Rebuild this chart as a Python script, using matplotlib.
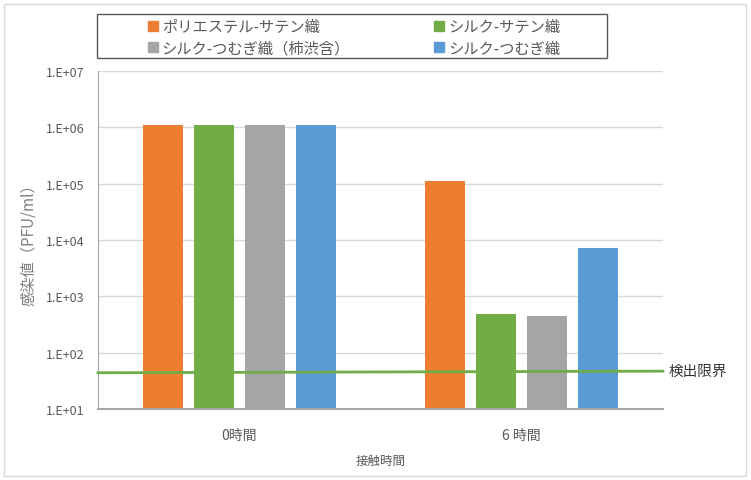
import matplotlib.pyplot as plt
import matplotlib.patches as mpatches
import numpy as np

plt.rcParams['font.family'] = ['Noto Sans CJK JP', 'DejaVu Sans']

# datos
categorias = ['0時間', '6 時間']
series = ['ポリエステル-サテン織', 'シルク-サテン織', 'シルク-つむぎ織（柿渋含）', 'シルク-つむぎ織']
valores = [
    [1.1e6, 1.1e5],   # ポリエステル-サテン織
    [1.1e6, 490],     # シルク-サテン織
    [1.1e6, 450],     # シルク-つむぎ織（柿渋含）
    [1.1e6, 7100],    # シルク-つむぎ織
]
limite_x = [-0.5, 1.5]
limite_y = [44, 47]
ticks_y = [1e1, 1e2, 1e3, 1e4, 1e5, 1e6, 1e7]
etiquetas_y = ['1.E+01', '1.E+02', '1.E+03', '1.E+04', '1.E+05', '1.E+06', '1.E+07']

colores = ['#ED7D31', '#70AD47', '#A5A5A5', '#5B9BD5']
gris = '#595959'

fig = plt.figure(figsize=(7.51, 4.81), dpi=100)
ax = fig.add_axes([0.1305, 0.1476, 0.7523, 0.7027])

x = np.arange(len(categorias))
ancho = 0.1416
paso = 0.18
for i, (nombre, vals) in enumerate(zip(series, valores)):
    ax.bar(x + (i - 1.5) * paso, vals, width=ancho, color=colores[i], bottom=0,
           label=nombre, zorder=2)

ax.plot(limite_x, limite_y, color='#70AD47', linewidth=2, zorder=3, clip_on=False)
ax.text(1.52, limite_y[-1], '検出限界', va='center', ha='left', fontsize=10.5, color='#333333')

ax.set_yscale('log')
ax.set_ylim(1e1, 1e7)
ax.set_xlim(-0.5, 1.5)
ax.set_yticks(ticks_y)
ax.set_yticklabels(etiquetas_y)
ax.minorticks_off()
ax.set_xticks(x)
ax.set_xticklabels(categorias)
ax.tick_params(axis='both', length=0, labelsize=9, colors=gris)
ax.tick_params(axis='x', pad=14, labelsize=10)
ax.tick_params(axis='y', pad=10)
ax.yaxis.grid(True, color='#D9D9D9', linewidth=1, zorder=0)
ax.set_axisbelow(True)
for lado in ['top', 'right']:
    ax.spines[lado].set_visible(False)
ax.spines['left'].set_color('#A6A6A6')
ax.spines['bottom'].set_color('#A6A6A6')
ax.spines['bottom'].set_linewidth(1.5)

ax.set_xlabel('接触時間', fontsize=9, color=gris, labelpad=8)
ax.set_ylabel('感染値（PFU/ml）', fontsize=11, color='#7F7F7F', labelpad=6)

# leyenda
manejadores = [mpatches.Patch(color=c) for c in colores]
orden = [0, 2, 1, 3]
ley = fig.legend([manejadores[i] for i in orden], [series[i] for i in orden],
                 ncol=2, loc='upper left', bbox_to_anchor=(142 / 751, 1 - 13 / 481),
                 frameon=False, fontsize=11, labelcolor=gris,
                 handlelength=0.65, handleheight=0.65, handletextpad=0.25,
                 columnspacing=5.5, labelspacing=0.3, borderaxespad=0)
fig.patches.append(mpatches.Rectangle((97 / 751, 1 - 59 / 481), 510 / 751, 44 / 481,
                                      transform=fig.transFigure, fill=False,
                                      edgecolor='#595959', linewidth=1))
fig.patches.append(mpatches.Rectangle((4 / 751, 4 / 481), 742 / 751, 472 / 481,
                                      transform=fig.transFigure, fill=False,
                                      edgecolor='#D9D9D9', linewidth=1))

plt.savefig('out.png', dpi=100)
